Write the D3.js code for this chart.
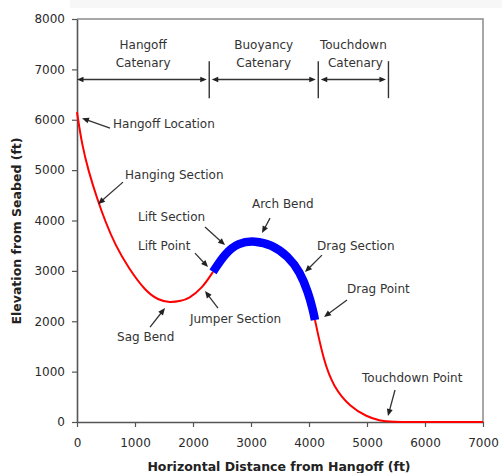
<!DOCTYPE html>
<html>
<head>
<meta charset="utf-8">
<script src="https://cdn.jsdelivr.net/npm/d3@7"></script>
<style>
html,body{margin:0;padding:0;background:#fff;}
svg{display:block;font-family:"DejaVu Sans",Verdana,sans-serif;}
</style>
</head>
<body>
<svg id="chart" width="502" height="473"></svg>
<script>
// ---- data ----
const xTicks = [0, 1000, 2000, 3000, 4000, 5000, 6000, 7000];
const yTicks = [0, 1000, 2000, 3000, 4000, 5000, 6000, 7000, 8000];

// Hanging section + sag bend + jumper (red)
const hangX = [0, 86, 201, 345, 489, 661, 891, 1178, 1400, 1600, 1800, 1925, 2155, 2345];
const hangY = [6150, 5500, 4970, 4440, 3975, 3510, 3050, 2600, 2420, 2370, 2405, 2450, 2650, 2980];
// Buoyancy section (blue)
const archX = [2345, 2552, 2781, 3069, 3356, 3638, 3845, 3983, 4069, 4103];
const archY = [2980, 3347, 3560, 3600, 3520, 3295, 2978, 2581, 2223, 2025];
// Touchdown section (red)
const tdX = [4103, 4250, 4420, 4710, 5000, 5220, 5400, 6000, 7000];
const tdY = [2025, 1230, 700, 300, 105, 25, 0, 0, 0];

// Catenary region boundaries (ft)
const catBounds = [0, 2280, 4160, 5370];
const catLabels = [["Hangoff", "Catenary"], ["Buoyancy", "Catenary"], ["Touchdown", "Catenary"]];

// Annotations: label, text anchor (ft), arrow tail, arrow head (ft)
const annoLabels = ["Hangoff Location", "Hanging Section", "Lift Section", "Lift Point", "Arch Bend",
  "Drag Section", "Drag Point", "Jumper Section", "Sag Bend", "Touchdown Point"];
const annoText = [[621, 5916], [828, 4901], [1052, 4067], [1052, 3492], [3017, 4325],
  [4138, 3492], [4655, 2639], [1948, 2044], [690, 1687], [4914, 873]];
const annoTail = [[569, 5833], [793, 4762], [2207, 3869], [2034, 3353], [3328, 4048],
  [4224, 3313], [4655, 2421], [2431, 2262], [1259, 1885], [5483, 635]];
const annoHead = [[86, 6032], [362, 4325], [2552, 3512], [2259, 3075], [3190, 3750],
  [3931, 2976], [4259, 2083], [2207, 2599], [1517, 2262], [5362, 119]];

// ---- drawing ----
const svg = d3.select("#chart");
const x = d3.scaleLinear().domain([0, 7000]).range([77, 483]);
const y = d3.scaleLinear().domain([0, 8000]).range([422, 19]);
const textCol = "#333";

// faint screenshot band at top
svg.append("rect").attr("x", 70).attr("y", 0).attr("width", 432).attr("height", 8).attr("fill", "#f7f7f7");

// frame (top and right)
svg.append("path")
  .attr("d", `M${x(0)},${y(8000)}H${x(7000)}V${y(0)}`)
  .attr("fill", "none").attr("stroke", "#8a8a8a").attr("stroke-width", 1.5);

// axes
const yAxis = svg.append("g").attr("transform", `translate(${x(0)},0)`)
  .call(d3.axisLeft(y).tickValues(yTicks).tickFormat(d3.format("d")).tickSize(5).tickSizeOuter(0).tickPadding(7));
const xAxis = svg.append("g").attr("transform", `translate(0,${y(0)})`)
  .call(d3.axisBottom(x).tickValues(xTicks).tickFormat(d3.format("d")).tickSize(5).tickSizeOuter(0).tickPadding(11));
[yAxis, xAxis].forEach(g => {
  g.select(".domain").attr("stroke", "#555").attr("stroke-width", 1.6);
  g.selectAll(".tick line").attr("stroke", "#555").attr("stroke-width", 1.2);
  g.selectAll(".tick text").attr("fill", "#2a2a2a").attr("font-size", 12)
    .attr("font-family", "DejaVu Sans, Verdana, sans-serif");
});

// axis titles
svg.append("text").attr("x", 279).attr("y", 471).attr("text-anchor", "middle")
  .attr("font-size", 12.5).attr("font-weight", "bold").attr("fill", "#222")
  .text("Horizontal Distance from Hangoff (ft)");
svg.append("text").attr("transform", "translate(21,231) rotate(-90)").attr("text-anchor", "middle")
  .attr("font-size", 12.5).attr("font-weight", "bold").attr("fill", "#222")
  .text("Elevation from Seabed (ft)");

// curve
const smooth = d3.line().x(d => x(d[0])).y(d => y(d[1])).curve(d3.curveBasis);
const zip = (a, b) => a.map((v, i) => [v, b[i]]);
svg.append("path").datum(zip(hangX, hangY)).attr("d", smooth)
  .attr("fill", "none").attr("stroke", "#ff0000").attr("stroke-width", 2);
svg.append("path").datum(zip(tdX, tdY)).attr("d", smooth)
  .attr("fill", "none").attr("stroke", "#ff0000").attr("stroke-width", 2);
svg.append("path").datum(zip(archX, archY)).attr("d", smooth)
  .attr("fill", "none").attr("stroke", "#0000ff").attr("stroke-width", 8.5).attr("stroke-linecap", "butt");

// arrowhead helper
function head(g, tx, ty, fx, fy, len, half, col) {
  const a = Math.atan2(ty - fy, tx - fx);
  const bx = tx - len * Math.cos(a), by = ty - len * Math.sin(a);
  const px = -Math.sin(a) * half, py = Math.cos(a) * half;
  g.append("path").attr("d", `M${tx},${ty}L${bx + px},${by + py}L${bx - px},${by - py}Z`).attr("fill", col);
}

// catenary region markers
const cat = svg.append("g");
const arrowY = y(6800);
const gap = 2.5;
for (let i = 0; i < 3; i++) {
  const x0 = x(catBounds[i]) + (i === 0 ? 0 : gap);
  const x1 = x(catBounds[i + 1]) - gap;
  cat.append("line").attr("x1", x0 + 3).attr("x2", x1 - 3).attr("y1", arrowY).attr("y2", arrowY)
    .attr("stroke", "#333").attr("stroke-width", 1.4);
  head(cat, x0, arrowY, x0 + 10, arrowY, 6.5, 2.8, "#222");
  head(cat, x1, arrowY, x1 - 10, arrowY, 6.5, 2.8, "#222");
  const cx = (x(catBounds[i]) + x(catBounds[i + 1])) / 2;
  cat.append("text").attr("x", cx).attr("y", y(7480)).attr("dy", "0.35em").attr("text-anchor", "middle")
    .attr("font-size", 12).attr("fill", textCol).text(catLabels[i][0]);
  cat.append("text").attr("x", cx + (i === 2 ? 2 : 0)).attr("y", y(7123)).attr("dy", "0.35em").attr("text-anchor", "middle")
    .attr("font-size", 12).attr("fill", textCol).text(catLabels[i][1]);
}
for (let i = 1; i < 4; i++) {
  cat.append("line").attr("x1", x(catBounds[i])).attr("x2", x(catBounds[i]))
    .attr("y1", y(7163)).attr("y2", y(6429)).attr("stroke", "#333").attr("stroke-width", 1.4);
}

// annotations
const ann = svg.append("g");
annoLabels.forEach((lab, i) => {
  ann.append("text").attr("x", x(annoText[i][0])).attr("y", y(annoText[i][1])).attr("dy", "0.35em")
    .attr("font-size", 12).attr("fill", textCol).text(lab);
  const tx = x(annoHead[i][0]), ty = y(annoHead[i][1]);
  const fx = x(annoTail[i][0]), fy = y(annoTail[i][1]);
  const a = Math.atan2(ty - fy, tx - fx);
  ann.append("line").attr("x1", fx).attr("y1", fy)
    .attr("x2", tx - 5 * Math.cos(a)).attr("y2", ty - 5 * Math.sin(a))
    .attr("stroke", "#333").attr("stroke-width", 1.3);
  head(ann, tx, ty, fx, fy, 7, 3, "#222");
});
</script>
</body>
</html>
